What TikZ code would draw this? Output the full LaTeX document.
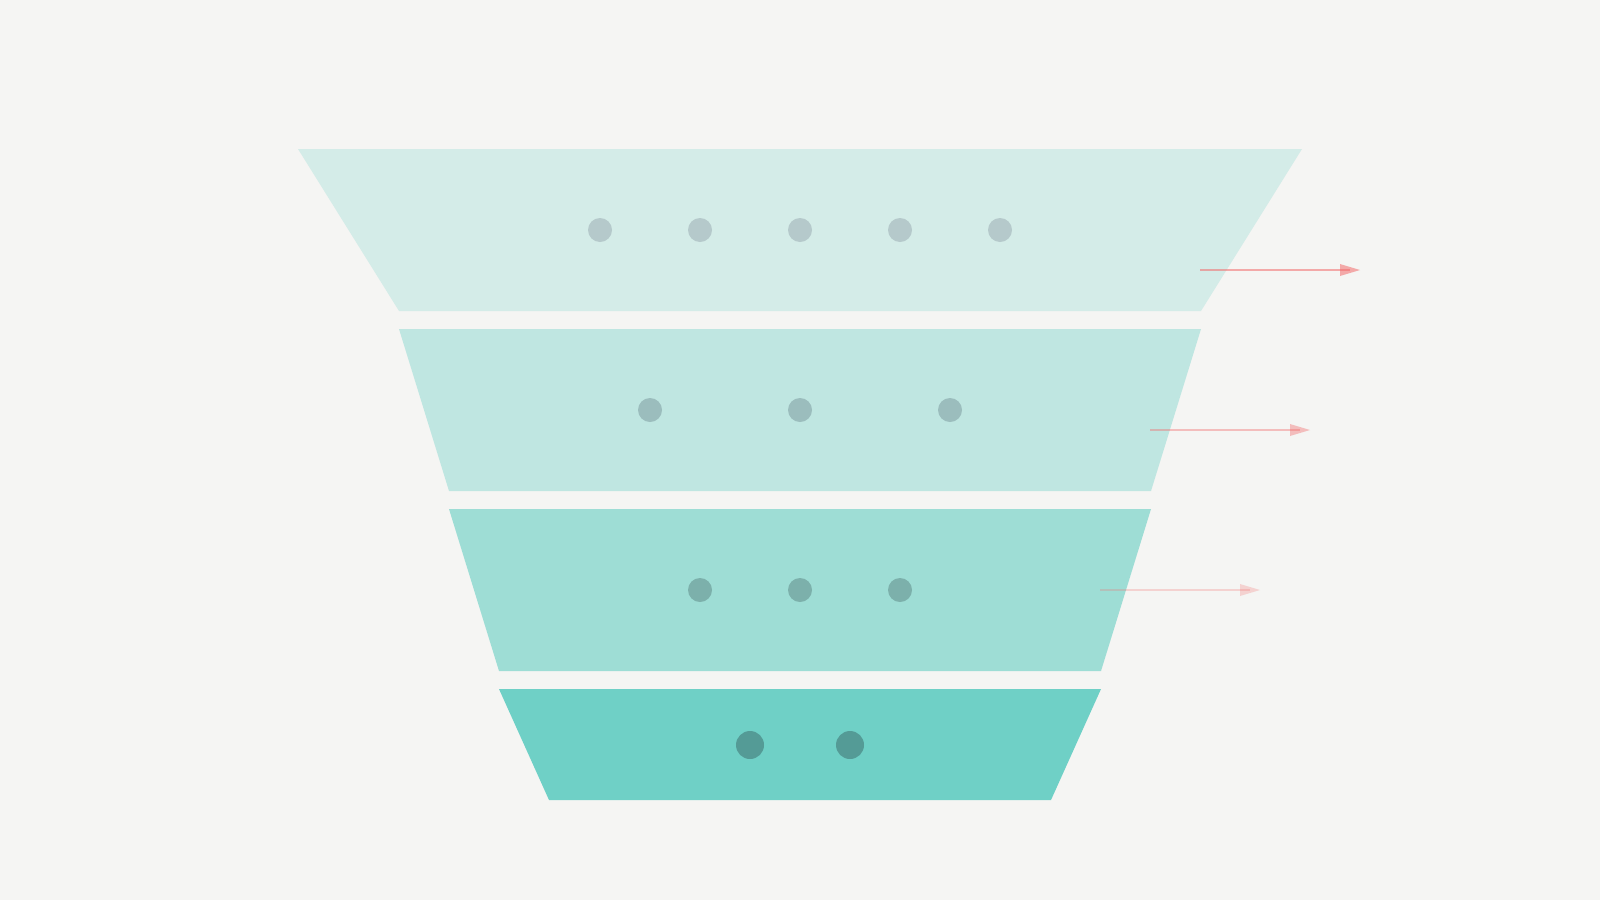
\documentclass[tikz,border=0pt]{standalone}
\begin{document}
\begin{tikzpicture}[x=1pt,y=-1pt,
  layer/.style={draw=none},
  dotmark/.style={draw=none},
  arrline/.style={draw=arrred,line width=2pt},
  arrhead/.style={fill=arrred,draw=none}]
\definecolor{bgc}{HTML}{F5F5F3}
\definecolor{layA}{HTML}{D4ECE8}
\definecolor{layB}{HTML}{BFE6E1}
\definecolor{layC}{HTML}{9EDDD5}
\definecolor{layD}{HTML}{6FD0C6}
\definecolor{dotA}{HTML}{B5C9CB}
\definecolor{dotB}{HTML}{9BBDBD}
\definecolor{dotC}{HTML}{7CB0AB}
\definecolor{dotD}{HTML}{549B96}
\definecolor{arrred}{HTML}{F26B6B}
\fill[bgc] (0,0) rectangle (1600,900);
\useasboundingbox (0,0) rectangle (1600,900);
% layers
\fill[layA,layer] (298,149) -- (1302,149) -- (1201,311) -- (399,311) -- cycle;
\fill[layB,layer] (399,329) -- (1201,329) -- (1151,491) -- (449,491) -- cycle;
\fill[layC,layer] (449,509) -- (1151,509) -- (1101,671) -- (499,671) -- cycle;
\fill[layD,layer] (499,689) -- (1101,689) -- (1051,800) -- (549,800) -- cycle;
% dots
\foreach \x in {600,700,800,900,1000} \fill[dotA,dotmark] (\x,230) circle (12);
\foreach \x in {650,800,950} \fill[dotB,dotmark] (\x,410) circle (12);
\foreach \x in {700,800,900} \fill[dotC,dotmark] (\x,590) circle (12);
\foreach \x in {750,850} \fill[dotD,dotmark] (\x,745) circle (14);
% arrows
\coordinate (a1s) at (1200,270); \coordinate (a1e) at (1350,270);
\coordinate (a2s) at (1150,430); \coordinate (a2e) at (1300,430);
\coordinate (a3s) at (1100,590); \coordinate (a3e) at (1250,590);
\begin{scope}[opacity=0.55]
\draw[arrline] (a1s) -- (a1e);
\fill[arrhead] (1340,264) -- (1360,270) -- (1340,276) -- cycle;
\end{scope}
\begin{scope}[opacity=0.4]
\draw[arrline] (a2s) -- (a2e);
\fill[arrhead] (1290,424) -- (1310,430) -- (1290,436) -- cycle;
\end{scope}
\begin{scope}[opacity=0.25]
\draw[arrline] (a3s) -- (a3e);
\fill[arrhead] (1240,584) -- (1260,590) -- (1240,596) -- cycle;
\end{scope}
\end{tikzpicture}
\end{document}
